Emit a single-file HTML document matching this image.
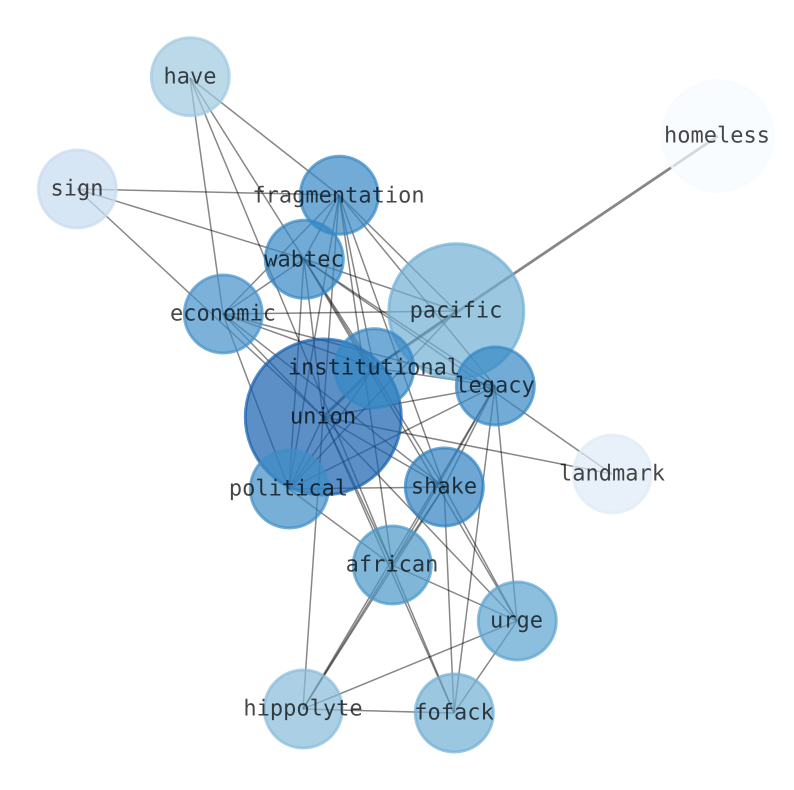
<!DOCTYPE html>
<html><head><meta charset="utf-8">
<style>html,body{margin:0;padding:0;background:#fff;width:794px;height:790px;overflow:hidden}svg{display:block}
text{font-family:"DejaVu Sans Mono","Liberation Mono",monospace;font-size:22px;fill:#000;fill-opacity:.72;text-anchor:middle;text-rendering:geometricPrecision}</style>
</head><body>
<svg width="794" height="790" viewBox="0 0 794 790" xmlns="http://www.w3.org/2000/svg">
<g stroke="#000" stroke-opacity=".47" stroke-width="1.5" fill="none">
<path d="M190 78L339 195"/><path d="M190 78L304 259"/><path d="M190 78L223 314"/><path d="M190 78L392 565"/>
<path d="M77 189L339 195"/><path d="M77 189L304 259"/><path d="M77 189L323 417"/>
<path d="M718 136L374 368" stroke-width="2.8"/>
<path d="M456 311L374 368" stroke-width="2"/><path d="M374 368L323 417" stroke-width="3"/>
<path d="M339 195L304 259"/><path d="M339 195L223 314"/><path d="M339 195L323 417"/><path d="M339 195L289 489"/><path d="M339 195L456 311"/><path d="M339 195L495 386"/><path d="M339 195L444 487"/><path d="M339 195L392 565"/><path d="M339 195L374 368"/>
<path d="M304 259L223 314"/><path d="M304 259L323 417"/><path d="M304 259L289 489"/><path d="M304 259L456 311"/><path d="M304 259L495 386"/><path d="M304 259L612 474"/><path d="M304 259L444 487"/><path d="M304 259L517 621"/><path d="M304 259L374 368"/>
<path d="M223 314L456 311"/><path d="M223 314L374 368"/><path d="M223 314L495 386"/><path d="M223 314L323 417"/><path d="M223 314L289 489"/><path d="M223 314L444 487"/>
<path d="M323 417L612 474"/><path d="M323 417L495 386"/><path d="M323 417L289 489"/><path d="M323 417L444 487"/><path d="M323 417L392 565"/><path d="M323 417L517 621"/><path d="M323 417L454 713"/><path d="M323 417L303 709"/>
<path d="M289 489L495 386"/><path d="M289 489L374 368"/><path d="M289 489L456 311"/><path d="M289 489L444 487"/><path d="M289 489L392 565"/>
<path d="M495 386L444 487"/><path d="M495 386L392 565"/><path d="M495 386L303 709"/><path d="M495 386L454 713"/><path d="M495 386L517 621"/><path d="M495 386L374 368"/>
<path d="M444 487L392 565"/><path d="M444 487L303 709"/><path d="M444 487L454 713"/><path d="M444 487L517 621"/>
<path d="M392 565L517 621"/><path d="M392 565L454 713"/><path d="M392 565L303 709"/>
<path d="M517 621L303 709"/><path d="M517 621L454 713"/><path d="M303 709L454 713"/>
</g>
<g stroke-width="3" fill-opacity=".7" stroke-opacity=".7">
<circle cx="323.300" cy="417" r="78" fill="#155fac" stroke="#155fac"/>
<circle cx="456.300" cy="311.300" r="67.500" fill="#70afd4" stroke="#70afd4"/>
<circle cx="190.300" cy="76.700" r="39" fill="#a0c9e1" stroke="#a0c9e1"/>
<circle cx="77.300" cy="189" r="39" fill="#c6dbef" stroke="#c6dbef"/>
<circle cx="339.300" cy="195.300" r="39" fill="#3487c5" stroke="#3487c5"/>
<circle cx="304.300" cy="259.300" r="39" fill="#3487c5" stroke="#3487c5"/>
<circle cx="223.300" cy="314" r="39" fill="#4491ca" stroke="#4491ca"/>
<circle cx="374.300" cy="368.300" r="39.500" fill="#3487c5" stroke="#3487c5"/>
<circle cx="495.300" cy="386" r="39" fill="#3487c5" stroke="#3487c5"/>
<circle cx="289.300" cy="489" r="39" fill="#3e8dc6" stroke="#3e8dc6"/>
<circle cx="444.300" cy="487" r="39" fill="#3081c0" stroke="#3081c0"/>
<circle cx="392.300" cy="565" r="39" fill="#4a97c8" stroke="#4a97c8"/>
<circle cx="517.300" cy="621" r="39" fill="#5ba2d0" stroke="#5ba2d0"/>
<circle cx="303.300" cy="709" r="39" fill="#88bcdb" stroke="#88bcdb"/>
<circle cx="454.300" cy="713" r="39" fill="#70afd4" stroke="#70afd4"/>
<circle cx="612.300" cy="474" r="39" fill="#deebf7" stroke="#deebf7"/>
<circle cx="718" cy="136" r="55.500" fill="#f7fbff" stroke="#f7fbff"/>
</g>
<g>
<text x="190" y="83.300">have</text>
<text x="77" y="195.300">sign</text>
<text x="338.500" y="202.300">fragmentation</text>
<text x="304" y="266.300">wabtec</text>
<text x="223" y="320.300">economic</text>
<text x="456" y="317.300">pacific</text>
<text x="374" y="374.300">institutional</text>
<text x="495" y="392.300">legacy</text>
<text x="323" y="423.300">union</text>
<text x="288.500" y="495.300">political</text>
<text x="444" y="493.300">shake</text>
<text x="392" y="571.300">african</text>
<text x="516.500" y="627.300">urge</text>
<text x="303" y="715.300">hippolyte</text>
<text x="454" y="719.300">fofack</text>
<text x="612" y="480.300">landmark</text>
<text x="717" y="142.300">homeless</text>
</g>
</svg>
</body></html>
